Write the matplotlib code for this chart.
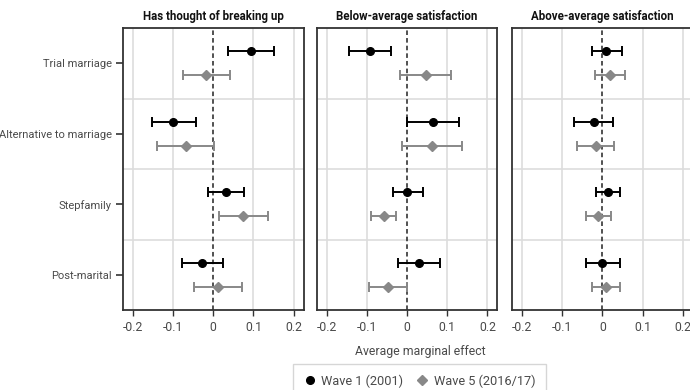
import numpy as np
import matplotlib
matplotlib.use("Agg")
import matplotlib.pyplot as plt
from matplotlib.lines import Line2D

plt.rcParams['font.family'] = ['Roboto', 'DejaVu Sans']

categories = ["Trial marriage", "Alternative to marriage", "Stepfamily", "Post-marital"]
panels = ["Has thought of breaking up", "Below-average satisfaction", "Above-average satisfaction"]

# point estimates and CI bounds, one list per panel, order = categories
w1_est = [[0.095, -0.099, 0.032, -0.027],
          [-0.092, 0.065, 0.000, 0.029],
          [0.010, -0.022, 0.014, 0.000]]
w1_lo = [[0.037, -0.153, -0.012, -0.077],
         [-0.144, 0.000, -0.036, -0.023],
         [-0.027, -0.071, -0.016, -0.041]]
w1_hi = [[0.152, -0.042, 0.077, 0.024],
         [-0.040, 0.129, 0.039, 0.083],
         [0.049, 0.026, 0.045, 0.043]]

w5_est = [[-0.017, -0.068, 0.075, 0.013],
          [0.046, 0.062, -0.057, -0.047],
          [0.019, -0.017, -0.011, 0.010]]
w5_lo = [[-0.074, -0.141, 0.014, -0.047],
         [-0.017, -0.012, -0.089, -0.094],
         [-0.018, -0.064, -0.040, -0.025]]
w5_hi = [[0.041, 0.002, 0.136, 0.072],
         [0.110, 0.137, -0.027, 0.000],
         [0.056, 0.030, 0.021, 0.045]]

xticks = [-0.2, -0.1, 0, 0.1, 0.2]
xticklabels = ["-0.2", "-0.1", "0", "0.1", "0.2"]

fig = plt.figure(figsize=(6.9, 3.9), dpi=100)
lefts = [0.178, 0.459, 0.742]
w1_col = "black"
w5_col = "#888888"
grid_col = "#dddddd"
spine_col = "#333333"
text_col = "#4a4a4a"
off = 0.17
y = np.arange(len(categories))

for i, title in enumerate(panels):
    ax = fig.add_axes([lefts[i], 0.205, 0.262, 0.723])
    ax.set_xlim(-0.225, 0.225)
    ax.set_ylim(3.5, -0.5)
    for xv in xticks:
        if xv != 0:
            ax.axvline(xv, color=grid_col, lw=1.2, zorder=0)
    for yv in [0.5, 1.5, 2.5]:
        ax.axhline(yv, color=grid_col, lw=1.2, zorder=0)
    ax.axvline(0, color="#222222", lw=1.1, ls=(0, (3, 2)), zorder=1)

    e1 = np.array(w1_est[i])
    e5 = np.array(w5_est[i])
    ax.errorbar(e1, y - off,
                xerr=[e1 - np.array(w1_lo[i]), np.array(w1_hi[i]) - e1],
                fmt="o", color=w1_col, ms=5.5, lw=1.4, capsize=3.3, capthick=1.4, zorder=3)
    ax.errorbar(e5, y + off,
                xerr=[e5 - np.array(w5_lo[i]), np.array(w5_hi[i]) - e5],
                fmt="D", color=w5_col, ms=5, lw=1.4, capsize=3.3, capthick=1.4, zorder=3)

    ax.set_xticks(xticks)
    ax.set_xticklabels(xticklabels, fontsize=8.8, color=text_col)
    ax.tick_params(axis="x", length=4, width=1, color=spine_col, pad=4)
    ax.set_yticks(y)
    if i == 0:
        ax.set_yticklabels(categories, fontsize=8, color=text_col)
        ax.tick_params(axis="y", length=5, width=1.2, color=spine_col, pad=3)
    else:
        ax.set_yticklabels([])
        ax.tick_params(axis="y", length=0)
    for s in ax.spines.values():
        s.set_color(spine_col)
        s.set_linewidth(1.3)
    ax.set_title(title, fontsize=8.3, fontweight="bold", color="#111111", pad=6)

fig.text(420 / 690, 1 - 351 / 390, "Average marginal effect", ha="center", va="center",
         fontsize=8.8, color=text_col)

handles = [Line2D([], [], marker="o", color=w1_col, ls="none", ms=5.5),
           Line2D([], [], marker="D", color=w5_col, ls="none", ms=5)]
leg = fig.legend(handles, ["Wave 1 (2001)", "Wave 5 (2016/17)"], ncol=2,
                 loc="upper left", bbox_to_anchor=(293 / 690, 1 - 364 / 390),
                 fontsize=9.2, frameon=True, fancybox=False, handletextpad=0.4,
                 handlelength=1.0, columnspacing=1.0, borderpad=0.8, borderaxespad=0)
leg.get_frame().set_edgecolor("#cccccc")
leg.get_frame().set_linewidth(1)
for t in leg.get_texts():
    t.set_color(text_col)

fig.savefig("out.png", dpi=100)
